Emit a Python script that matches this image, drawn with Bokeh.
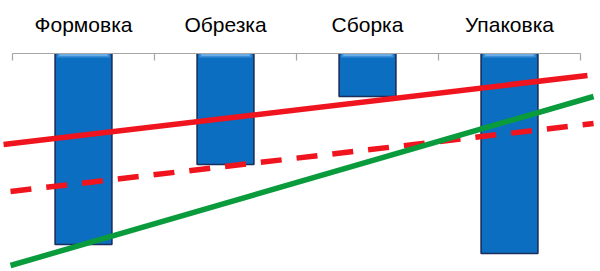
from bokeh.plotting import figure
from bokeh.models import Range1d, FixedTicker, ColumnDataSource
from bokeh.embed import file_html
from bokeh.resources import INLINE

# Production stages and their (downward) bar values
stages = ["Формовка", "Обрезка", "Сборка", "Упаковка"]
stage_pos = [0.5, 1.5, 2.5, 3.5]
stage_values = [-19.1, -11.1, -4.3, -20.0]

# Trend lines (end points in chart units)
red_x = [-0.063, 4.049]
red_y = [-9.1, -2.2]
red_dash_x = [-0.014, 4.092]
red_dash_y = [-13.8, -7.0]
green_x = [-0.014, 4.092]
green_y = [-21.2, -4.3]

p = figure(width=600, height=271, output_backend="svg", toolbar_location=None,
           x_range=Range1d(-12 / 142, 588 / 142), y_range=Range1d(-21.8, 0),
           x_axis_location="above", y_axis_location=None,
           min_border_left=0, min_border_right=0, min_border_bottom=0,
           min_border_top=53)
p.outline_line_color = None
p.grid.visible = False
p.background_fill_color = "white"
p.border_fill_color = "white"

ax = p.xaxis[0]
ax.ticker = FixedTicker(ticks=stage_pos, minor_ticks=[0, 1, 2, 3, 4])
ax.major_label_overrides = {pos: name for pos, name in zip(stage_pos, stages)}
ax.bounds = (0, 4)
ax.axis_line_color = "#A6A6A6"
ax.axis_line_width = 1.2
ax.major_tick_line_color = None
ax.minor_tick_line_color = "#A6A6A6"
ax.minor_tick_line_width = 1.2
ax.minor_tick_in = 7
ax.minor_tick_out = 0
ax.major_label_standoff = 12
ax.major_label_text_font = "Liberation Sans"
ax.major_label_text_font_size = "21px"
ax.major_label_text_color = "black"

src = ColumnDataSource(dict(x=stage_pos, top=[0] * 4, bottom=stage_values,
                            hl=[-0.4] * 4, hl2=[-0.15] * 4))
# bar body with dark rim
p.vbar(x="x", top="top", bottom="bottom", width=0.4, source=src,
       fill_color="#0B6EC1", line_color="#1B2E5C", line_width=1.6)
# lighter bevel at the top of each bar
p.vbar(x="x", top="top", bottom="hl", width=0.37, source=src,
       fill_color="#3A8DD6", line_color=None)
p.vbar(x="x", top="hl2", bottom="hl2", width=0.34, source=src,
       line_color="#9CCBF2", line_width=1.2)

p.line(red_x, red_y, line_color="#F0141E", line_width=5.5)
p.line(red_dash_x, red_dash_y, line_color="#F0141E", line_width=5.5,
       line_dash="21 15")
p.line(green_x, green_y, line_color="#0A9C3C", line_width=5.5)

open("out.html", "w").write(file_html(p, INLINE))
